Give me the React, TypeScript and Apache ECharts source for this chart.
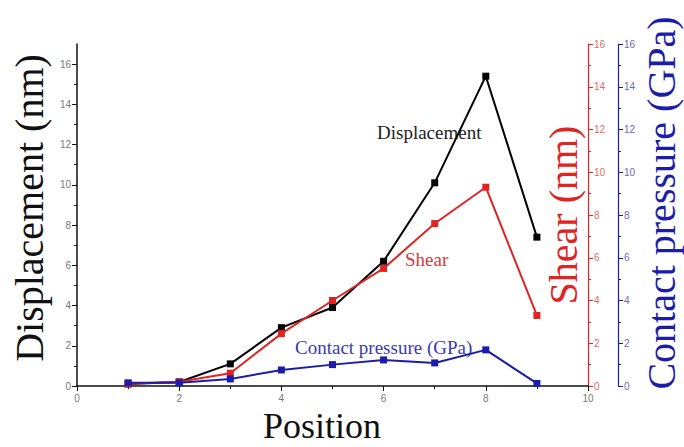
import React, { useEffect, useRef } from "react";
import * as echarts from "echarts";

const positions = [1, 2, 3, 4, 5, 6, 7, 8, 9];
const displacement = [0.1, 0.2, 1.1, 2.9, 3.9, 6.2, 10.1, 15.4, 7.4];
const shear = [0.1, 0.2, 0.6, 2.45, 4.0, 5.5, 7.6, 9.3, 3.3];
const contactPressure = [0.15, 0.15, 0.33, 0.75, 1.0, 1.22, 1.08, 1.69, 0.12];
const xTicks = [0, 2, 4, 6, 8, 10];
const yTicks = [0, 2, 4, 6, 8, 10, 12, 14, 16];

const RED = "#e02424";
const BLUE = "#1c1cab";
const SERIF = "'Liberation Serif', 'DejaVu Serif', serif";
const SANS = "'Liberation Sans', Arial, sans-serif";

export default function App() {
  const ref = useRef<HTMLDivElement>(null);
  useEffect(() => {
    if (!ref.current) return;
    const chart = echarts.init(ref.current, null, { renderer: "svg" });
    const pairs = (ys: number[]) => positions.map((p, i) => [p, ys[i]]);
    const tickLabel = (color: string) => ({
      color,
      fontSize: 10,
      fontFamily: SANS,
      margin: 6,
    });
    chart.setOption({
      animation: false,
      backgroundColor: "#fff",
      grid: { left: 77, right: 96, top: 44, bottom: 61, containLabel: false },
      xAxis: {
        type: "value",
        min: 0,
        max: 10,
        interval: 2,
        axisLine: { show: true, lineStyle: { color: "#111", width: 1.5 } },
        axisTick: { show: true, length: 5, lineStyle: { color: "#111" } },
        minorTick: { show: true, splitNumber: 2, length: 3, lineStyle: { color: "#111" } },
        splitLine: { show: false },
        axisLabel: { ...tickLabel("#777"), margin: 7, customValues: xTicks },
      },
      yAxis: [
        {
          type: "value",
          position: "left",
          min: 0,
          max: 17,
          interval: 2,
          axisLine: { show: true, lineStyle: { color: "#111", width: 1.5 } },
          axisTick: { show: true, length: 5, customValues: yTicks, lineStyle: { color: "#111" } },
          minorTick: { show: true, splitNumber: 2, length: 3, lineStyle: { color: "#111" } },
          splitLine: { show: false },
          axisLabel: { ...tickLabel("#777"), customValues: yTicks },
        },
        {
          type: "value",
          position: "right",
          offset: 0,
          min: 0,
          max: 16,
          interval: 2,
          axisLine: { show: true, lineStyle: { color: RED, width: 1.2 } },
          axisTick: { show: true, length: 5, lineStyle: { color: RED } },
          minorTick: { show: true, splitNumber: 2, length: 3, lineStyle: { color: RED } },
          splitLine: { show: false },
          axisLabel: tickLabel("#e06a6a"),
        },
        {
          type: "value",
          position: "right",
          offset: 30,
          min: 0,
          max: 16,
          interval: 2,
          axisLine: { show: true, lineStyle: { color: BLUE, width: 1.2 } },
          axisTick: { show: true, length: 5, lineStyle: { color: BLUE } },
          minorTick: { show: true, splitNumber: 2, length: 3, lineStyle: { color: BLUE } },
          splitLine: { show: false },
          axisLabel: tickLabel("#6b6bb8"),
        },
      ],
      series: [
        {
          name: "Displacement",
          type: "line",
          yAxisIndex: 0,
          data: pairs(displacement),
          symbol: "rect",
          symbolSize: 7,
          lineStyle: { color: "#000", width: 2 },
          itemStyle: { color: "#000" },
        },
        {
          name: "Shear",
          type: "line",
          yAxisIndex: 1,
          data: pairs(shear),
          symbol: "rect",
          symbolSize: 7,
          lineStyle: { color: RED, width: 2 },
          itemStyle: { color: RED },
        },
        {
          name: "Contact pressure (GPa)",
          type: "line",
          yAxisIndex: 2,
          data: pairs(contactPressure),
          symbol: "rect",
          symbolSize: 7,
          lineStyle: { color: BLUE, width: 2 },
          itemStyle: { color: BLUE },
        },
      ],
      graphic: [
        {
          type: "text",
          x: 29,
          y: 208,
          rotation: Math.PI / 2,
          style: { text: "Displacement (nm)", font: `40px ${SERIF}`, fill: "#111", align: "center", verticalAlign: "middle" },
        },
        {
          type: "text",
          x: 563,
          y: 215,
          rotation: Math.PI / 2,
          style: { text: "Shear (nm)", font: `40px ${SERIF}`, fill: RED, align: "center", verticalAlign: "middle" },
        },
        {
          type: "text",
          x: 661,
          y: 203,
          rotation: Math.PI / 2,
          style: { text: "Contact pressure (GPa)", font: `40px ${SERIF}`, fill: BLUE, align: "center", verticalAlign: "middle" },
        },
        {
          type: "text",
          x: 322,
          y: 426,
          style: { text: "Position", font: `36px ${SERIF}`, fill: "#111", align: "center", verticalAlign: "middle" },
        },
        {
          type: "text",
          x: 377,
          y: 132,
          style: { text: "Displacement", font: `19px ${SERIF}`, fill: "#222", align: "left", verticalAlign: "middle" },
        },
        {
          type: "text",
          x: 405,
          y: 259,
          style: { text: "Shear", font: `19px ${SERIF}`, fill: "#d63a3a", align: "left", verticalAlign: "middle" },
        },
        {
          type: "text",
          x: 295,
          y: 347,
          style: { text: "Contact pressure (GPa)", font: `19px ${SERIF}`, fill: "#3a3ab0", align: "left", verticalAlign: "middle" },
        },
      ],
    });
    return () => chart.dispose();
  }, []);
  return (
    <div
      ref={ref}
      style={{ position: "fixed", left: 0, top: 0, width: 684, height: 447, background: "#fff" }}
    />
  );
}
